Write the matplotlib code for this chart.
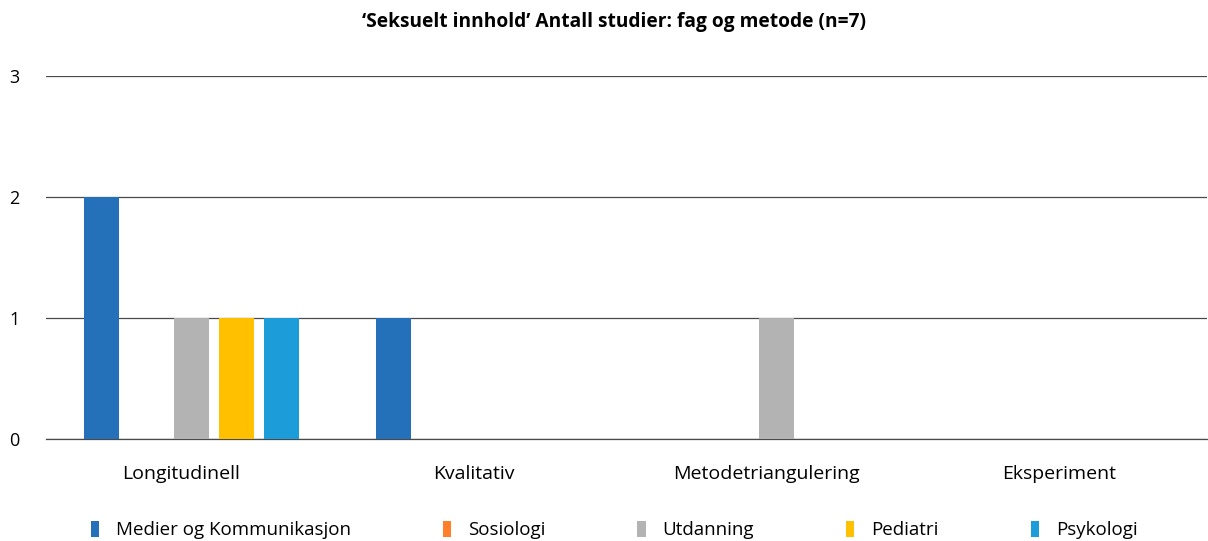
import matplotlib.pyplot as plt
import numpy as np

categories = ['Longitudinell', 'Kvalitativ', 'Metodetriangulering', 'Eksperiment']
series = ['Medier og Kommunikasjon', 'Sosiologi', 'Utdanning', 'Pediatri', 'Psykologi']
values = {
    'Medier og Kommunikasjon': [2, 1, 0, 0],
    'Sosiologi': [0, 0, 0, 0],
    'Utdanning': [1, 0, 1, 0],
    'Pediatri': [1, 0, 0, 0],
    'Psykologi': [1, 0, 0, 0],
}
colors = ['#2471BA', '#FF7F2A', '#B4B3B3', '#FFC000', '#1C9CD8']
yticks = [0, 1, 2, 3]

plt.rcParams['font.family'] = ['Open Sans', 'DejaVu Sans']

fig = plt.figure(figsize=(12.08, 5.41), dpi=100)
ax = fig.add_axes([46 / 1208, 1 - 439 / 541, 1161 / 1208, 363 / 541])

x = np.arange(len(categories))
cat_px = 292.5
slot = 45 / cat_px
width = 35 / cat_px
for i, name in enumerate(series):
    ax.bar(x + (i - 2) * slot, values[name], width=width, color=colors[i],
           label=name, zorder=3)

ax.set_xlim(-0.497, -0.497 + 1161 / cat_px)
ax.set_ylim(0, 3)
ax.set_yticks(yticks)
ax.set_yticklabels([str(t) for t in yticks], fontsize=13)
ax.set_xticks(x - 0.035)
ax.set_xticklabels(categories, fontsize=14)
ax.tick_params(axis='both', length=0)
ax.tick_params(axis='y', pad=19)
ax.tick_params(axis='x', pad=19)
ax.yaxis.grid(True, color='#4a4a4a', linewidth=0.9, zorder=0)
for s in ['top', 'right', 'left']:
    ax.spines[s].set_visible(False)
ax.spines['bottom'].set_color('#4a4a4a')
ax.spines['bottom'].set_linewidth(0.9)

fig.text(614 / 1208, 1 - 22 / 541,
         '\u2018Seksuelt innhold\u2019 Antall studier: fag og metode (n=7)',
         ha='center', va='center', fontsize=13.8, fontweight='bold')

fig.legend(loc='center', bbox_to_anchor=(614 / 1208, 1 - 530 / 541), ncol=5,
           frameon=False, fontsize=13.5, handlelength=0.45, handleheight=0.95,
           handletextpad=0.9, columnspacing=4.9)

fig.savefig('out.png', dpi=100)
